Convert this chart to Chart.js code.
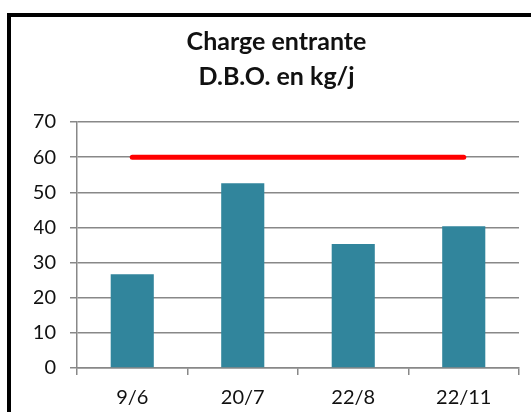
<!DOCTYPE html>
<html>
<head>
<meta charset="utf-8">
<script src="https://cdn.jsdelivr.net/npm/chart.js@4.4.1/dist/chart.umd.min.js"></script>
<style>
html,body{margin:0;padding:0;background:#fff;}
#wrap{position:relative;width:531px;height:412px;overflow:hidden;}
#frame{position:absolute;left:7px;top:13px;width:600px;height:500px;border:4px solid #000;box-sizing:border-box;}
canvas{position:absolute;left:0;top:0;}
</style>
</head>
<body>
<div id="wrap">
<div id="frame"></div>
<canvas id="c" width="531" height="412"></canvas>
</div>
<script>
const categories = ['9/6', '20/7', '22/8', '22/11'];
const chargeValues = [26.7, 52.6, 35.3, 40.3];
const limitValues = [60, 60, 60, 60];
const titleLines = ['Charge entrante', 'D.B.O. en kg/j'];
const yMin = 0, yMax = 70, yStep = 10;

const FONT = 'Lato, "Liberation Sans", sans-serif';
const GRID = '#888888';

new Chart(document.getElementById('c'), {
  data: {
    labels: categories,
    datasets: [
      {
        type: 'line',
        data: limitValues,
        borderColor: '#ff0000',
        borderWidth: 5,
        borderCapStyle: 'round',
        pointRadius: 0,
        fill: false,
        order: 0
      },
      {
        type: 'bar',
        data: chargeValues,
        backgroundColor: '#31859c',
        borderWidth: 0,
        categoryPercentage: 1,
        barPercentage: 0.39,
        order: 1
      }
    ]
  },
  options: {
    responsive: false,
    animation: false,
    layout: { padding: { left: 34, right: 12, top: 0, bottom: 0 } },
    plugins: {
      legend: { display: false },
      tooltip: { enabled: false },
      title: {
        display: true,
        text: titleLines,
        color: '#111',
        font: { family: FONT, size: 25, weight: 'bold', lineHeight: 1.38 },
        padding: { top: 25, bottom: 28 }
      }
    },
    scales: {
      x: {
        offset: true,
        grid: { display: true, drawOnChartArea: false, drawTicks: true, tickLength: 7, color: GRID, lineWidth: 1.5, offset: true },
        border: { display: true, color: GRID, width: 1.5 },
        ticks: { color: '#111', font: { family: FONT, size: 20 }, padding: 11 },
        afterFit: s => { s.height = 44; }
      },
      y: {
        min: yMin, max: yMax,
        ticks: { stepSize: yStep, color: '#111', font: { family: FONT, size: 20 }, padding: 14 },
        grid: { color: GRID, lineWidth: 1.5, drawTicks: true, tickLength: 7 },
        border: { display: true, color: GRID, width: 1.5 },
        afterFit: s => { s.width = 43; }
      }
    }
  }
});
</script>
</body>
</html>
